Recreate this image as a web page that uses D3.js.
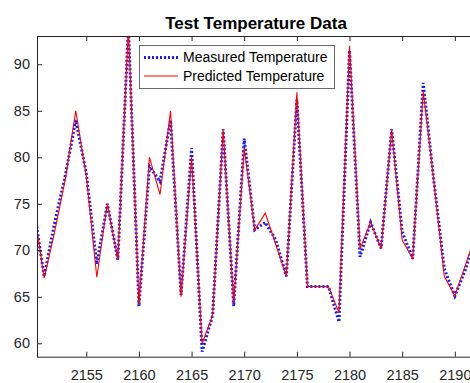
<!DOCTYPE html>
<html>
<head>
<meta charset="utf-8">
<script src="https://cdn.jsdelivr.net/npm/d3@7"></script>
<style>
  html, body { margin: 0; padding: 0; background: #fff; }
  svg { display: block; font-family: "Liberation Sans", Arial, Helvetica, sans-serif; }
</style>
</head>
<body>
<svg id="chart" width="470" height="383"></svg>
<script>
// ---- data ----
const xValues = [2150,2151,2152,2153,2154,2155,2156,2157,2158,2159,2160,2161,2162,2163,2164,2165,2166,2167,2168,2169,2170,2171,2172,2173,2174,2175,2176,2177,2178,2179,2180,2181,2182,2183,2184,2185,2186,2187,2188,2189,2190,2191,2192];
const measured = [74.7,67.2,73,78,84,78.3,68.5,75,69,94,64,79,77.4,84,65.2,81,59.1,63,83,64,82,72.2,73,71.1,67.2,86.2,66.1,66.1,66.1,62.3,91.5,69.3,73,70.2,83,72,69.1,88,77.5,68,65.1,67.9,71.5];
const predicted = [74.7,67,72,77.6,85,78,67.1,75,69,94,64.2,80,76,85,65,80,60,63,83,64.3,81,72.2,74,70.6,67.2,87,66.1,66.1,66.1,63.3,92,70.2,73,70.2,83,71.1,69.1,87.1,77.5,67.2,65.1,68.4,71.7];
const xTicks = [2155,2160,2165,2170,2175,2180,2185,2190];
const yTicks = [60,65,70,75,80,85,90];
const titleText = "Test Temperature Data";
const seriesNames = ["Measured Temperature","Predicted Temperature"];

// ---- layout ----
const svg = d3.select("#chart");
const L = 37, T = 36, B = 356.7, R = 475;
const x = d3.scaleLinear().domain([2150.32, 2191.45]).range([L, 470.1]);
const y = d3.scaleLinear().domain([58.56, 93.04]).range([B, T]);
const axisColor = "#262626";

svg.append("defs").append("clipPath").attr("id","clip")
  .append("rect").attr("x", L).attr("y", T).attr("width", R - L).attr("height", B - T);

// title
svg.append("text").attr("x", 256).attr("y", 28.5).attr("text-anchor","middle")
  .attr("font-weight","bold").attr("font-size", 17).attr("fill","#000").text(titleText);

// lines
const line = d3.line().x((d,i) => x(xValues[i])).y(d => y(d));
const g = svg.append("g").attr("clip-path","url(#clip)");
g.append("path").datum(measured).attr("d", line).attr("fill","none")
  .attr("stroke","#1a1aff").attr("stroke-width", 3).attr("stroke-dasharray","2,2")
  .attr("stroke-linejoin","miter");
g.append("path").datum(predicted).attr("d", line).attr("fill","none")
  .attr("stroke","#ff0000").attr("stroke-width", 1.1);

// axes
const fmt = d3.format("d");
function styleAxis(sel) {
  sel.select(".domain").attr("stroke", axisColor).attr("stroke-width", 1);
  sel.selectAll(".tick line").attr("stroke", axisColor).attr("stroke-width", 1);
  sel.selectAll(".tick text").attr("fill", axisColor).attr("font-size", 14.5)
     .attr("font-family", "'Liberation Sans', Arial, sans-serif");
}
const yAxis = svg.append("g").attr("transform", `translate(${L},0)`)
  .call(d3.axisLeft(y).tickValues(yTicks).tickFormat(fmt).tickSize(-5).tickPadding(7).tickSizeOuter(0));
styleAxis(yAxis);

const xAxis = svg.append("g").attr("transform", `translate(0,${B})`)
  .call(d3.axisBottom(x).tickValues(xTicks).tickFormat(fmt).tickSize(-5).tickPadding(13).tickSizeOuter(0));
xAxis.select(".domain").attr("d", `M${L},0.5H${R}`);
styleAxis(xAxis);

const topAxis = svg.append("g").attr("transform", `translate(0,${T})`)
  .call(d3.axisTop(x).tickValues(xTicks).tickSize(-5).tickFormat("").tickSizeOuter(0));
topAxis.select(".domain").attr("d", `M${L},0.5H${R}`);
styleAxis(topAxis);

// legend
const lg = svg.append("g");
lg.append("rect").attr("x", 139.5).attr("y", 45.5).attr("width", 195).attr("height", 43)
  .attr("fill","#fff").attr("stroke","#6a6a6a").attr("stroke-width", 1);
const legendRows = [
  {name: seriesNames[0], color: "#1a1aff", dash: "2,2", w: 3, yy: 57.5},
  {name: seriesNames[1], color: "#ff0000", dash: "none", w: 1.2, yy: 76}
];
legendRows.forEach(r => {
  lg.append("line").attr("x1", 144).attr("x2", 178).attr("y1", r.yy).attr("y2", r.yy)
    .attr("stroke", r.color).attr("stroke-width", r.w).attr("stroke-dasharray", r.dash);
  lg.append("text").attr("x", 183).attr("y", r.yy).attr("dy","0.35em")
    .attr("font-size", 14).attr("fill","#000").text(r.name);
});
</script>
</body>
</html>
